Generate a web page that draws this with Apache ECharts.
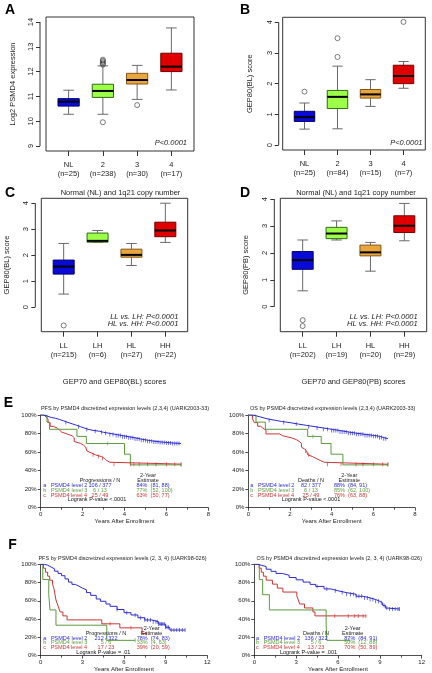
<!DOCTYPE html>
<html><head><meta charset="utf-8">
<script src="https://cdn.jsdelivr.net/npm/echarts@6/dist/echarts.min.js"></script>
<style>html,body{margin:0;padding:0;background:#fff}#c{width:432px;height:673px}</style>
</head><body><div id="c"></div>
<script>
// ================= DATA =================
// Box panels: [min(whisker), Q1, median, Q3, max(whisker)]
const catsAB = ['NL', '2', '3', '4'];
const catsCD = ['LL', 'LH', 'HL', 'HH'];
const nA = ['(n=25)', '(n=238)', '(n=30)', '(n=17)'];
const nB = ['(n=25)', '(n=84)', '(n=15)', '(n=7)'];
const nC = ['(n=215)', '(n=6)', '(n=27)', '(n=22)'];
const nD = ['(n=202)', '(n=19)', '(n=20)', '(n=29)'];
const statsA = [[10.28, 10.61, 10.79, 10.91, 11.25], [10.28, 10.96, 11.22, 11.49, 12.23], [10.88, 11.50, 11.66, 11.93, 12.25], [11.26, 12.00, 12.20, 12.74, 13.76]];
const statsB = [[0.52, 0.77, 0.91, 1.10, 1.37], [0.53, 1.19, 1.57, 1.78, 2.57], [1.26, 1.53, 1.65, 1.81, 2.13], [1.85, 2.00, 2.25, 2.60, 2.72]];
const statsC = [[0.50, 1.27, 1.56, 1.81, 2.45], [2.50, 2.50, 2.55, 2.85, 2.95], [1.60, 1.92, 2.01, 2.23, 2.45], [2.49, 2.71, 2.95, 3.27, 4.00]];
const statsD = [[0.59, 1.39, 1.73, 2.05, 2.48], [2.48, 2.53, 2.72, 2.95, 3.19], [1.32, 1.89, 2.02, 2.29, 2.39], [2.45, 2.76, 3.01, 3.38, 3.84]];
const outA = [[2, 9.96], [2, 12.28], [2, 12.33], [2, 12.38], [2, 12.43], [2, 12.48], [3, 10.65]];
const outB = [[1, 1.74], [2, 2.87], [2, 3.48], [4, 4.01]];
const outC = [[1, -0.71]];
const outD = [[1, -0.50], [1, -0.72]];
const ticksA = [9, 10, 11, 12, 13, 14];
const ticksBCD = [0, 1, 2, 3, 4];

// Kaplan-Meier step curves [years, survival %]
const e1Blue = [[0,100],[0.1,99.5],[0.2,98.9],[0.3,98.1],[0.4,97.3],[0.5,96.5],[0.7,95.2],[0.9,93.6],[1.1,92.0],[1.3,90.5],[1.5,89.0],[1.7,87.4],[1.9,85.8],[2.1,84.4],[2.3,83.4],[2.5,82.5],[2.8,81.3],[3.0,80.2],[3.3,79.0],[3.6,77.8],[3.9,76.6],[4.2,75.4],[4.5,74.0],[4.8,72.8],[5.1,71.8],[5.4,71.0],[5.7,70.4],[6.0,69.8],[6.3,69.3],[6.7,69.3]];
const e1Green = [[0,100],[0.3,92.3],[0.42,84.6],[1.73,76.9],[2.18,69.2],[4.0,57.7],[4.28,46.2],[6.7,46.2]];
const e1Red = [[0,100],[0.15,98.0],[0.25,95.9],[0.35,91.8],[0.45,87.8],[0.6,85.7],[0.8,83.7],[0.9,81.6],[1.0,79.6],[1.25,77.6],[1.5,75.5],[1.6,71.4],[1.65,69.4],[1.9,67.3],[2.05,65.3],[2.15,63.3],[2.2,61.2],[2.25,59.2],[2.4,57.1],[2.6,55.1],[2.9,53.1],[3.05,51.0],[3.15,49.0],[3.3,47.0],[6.7,47.0]];
const e1BlueCens = [1.2,1.8,2.2,2.6,2.9,3.1,3.3,3.45,3.6,3.7,3.8,3.9,4.0,4.1,4.2,4.3,4.4,4.5,4.6,4.7,4.8,4.9,5.0,5.1,5.2,5.3,5.4,5.5,5.6,5.7,5.8,5.9,6.0,6.1,6.2,6.3,6.4,6.5,6.6];
const e1GreenCens = [3.2, 6.7];
const e1RedCens = [2.5,2.75,2.95,3.5,4.3,4.45,4.7,5.1,5.5,6.0,6.4,6.7];

const e2Blue = [[0,100],[0.2,99.0],[0.4,97.8],[0.6,96.5],[0.8,95.4],[1.0,94.3],[1.3,93.0],[1.6,91.8],[2.0,90.2],[2.4,88.8],[2.8,87.4],[3.2,86.0],[3.6,84.6],[4.0,83.2],[4.4,81.7],[4.8,80.3],[5.2,79.1],[5.6,78.0],[6.0,77.0],[6.3,75.6],[6.5,74.5],[6.7,74.5]];
const e2Green = [[0,100],[0.37,92.3],[0.82,84.6],[2.85,76.9],[3.5,69.2],[3.97,57.7],[4.54,46.2],[6.7,46.2]];
const e2Red = [[0,100],[0.2,95.9],[0.29,91.8],[0.45,87.8],[0.6,85.7],[0.7,83.7],[0.85,79.6],[1.5,77.6],[1.65,75.5],[2.05,73.5],[2.3,71.4],[2.45,69.4],[2.55,65.3],[2.6,63.3],[2.7,61.2],[2.8,59.2],[2.85,57.1],[2.93,55.1],[3.09,53.1],[3.25,51.0],[3.45,49.0],[3.65,46.9],[6.7,46.9]];
const e2BlueCens = [1.0,1.7,2.3,2.9,3.3,3.6,3.8,4.0,4.1,4.2,4.3,4.4,4.5,4.6,4.7,4.8,4.9,5.0,5.1,5.2,5.3,5.4,5.5,5.6,5.7,5.8,5.9,6.0,6.1,6.2,6.3,6.4,6.5,6.6];
const e2GreenCens = [3.1, 6.7];
const e2RedCens = [2.75,2.9,3.8,4.45,5.17,5.5,6.0,6.45,6.7];

const f1Blue = [[0,100],[0.25,99.0],[0.5,97.0],[0.75,95.0],[1.0,92.5],[1.25,90.0],[1.5,87.5],[1.75,84.0],[2.0,80.5],[2.25,78.0],[2.5,76.0],[2.75,74.0],[3.0,72.0],[3.3,69.0],[3.6,66.0],[4.0,62.0],[4.3,59.5],[4.7,56.5],[5.0,54.0],[5.5,50.5],[6.0,47.0],[6.5,44.5],[7.0,41.5],[7.5,39.0],[8.0,37.0],[8.5,34.5],[9.0,31.0],[9.3,28.0],[10.4,28.0]];
const f1Green = [[0,100],[0.15,83.3],[0.58,66.7],[0.67,50.0],[1.1,33.3],[4.76,16.7],[6.8,16.7]];
const f1Red = [[0,100],[0.2,95.7],[0.35,91.3],[0.5,87.0],[0.65,82.6],[0.85,78.3],[0.95,73.9],[1.0,69.6],[1.05,65.2],[1.1,60.9],[1.2,56.5],[1.3,52.2],[1.4,47.8],[1.6,43.5],[1.9,39.1],[4.4,34.8],[5.7,30.4],[7.3,24.3],[7.6,24.3]];
const f1BlueCens = [5.5,6.2,6.8,7.2,7.5,7.7,7.9,8.1,8.3,8.4,8.5,8.6,8.7,8.8,8.9,9.0,9.1,9.2,9.4,9.6,9.8,10.0,10.2,10.4];
const f1GreenCens = [6.8];
const f1RedCens = [5.0,6.5,7.6];

const f2Blue = [[0,100],[0.25,99.0],[0.5,97.5],[0.85,94.6],[1.2,92.3],[1.56,90.0],[2.0,88.0],[2.5,85.5],[3.0,83.0],[3.5,80.5],[4.0,78.0],[4.4,75.8],[5.0,73.0],[5.5,71.0],[6.0,69.0],[6.6,67.2],[7.3,65.0],[7.8,63.2],[8.3,61.4],[8.7,59.5],[9.0,57.8],[9.2,55.0],[9.4,52.0],[9.6,51.0],[10.4,51.0]];
const f2Green = [[0,100],[0.36,83.3],[0.6,66.7],[1.08,50.0],[5.15,33.3],[5.2,16.7],[6.85,16.7]];
const f2Red = [[0,100],[0.35,95.7],[0.5,91.3],[0.65,87.0],[0.85,82.6],[1.3,78.3],[1.65,73.9],[2.05,69.6],[3.05,65.2],[3.15,60.9],[3.25,56.5],[3.6,52.2],[4.2,47.8],[4.35,43.5],[8.0,43.5]];
const f2BlueCens = [4.5,5.2,5.8,6.3,6.6,6.9,7.1,7.3,7.5,7.7,7.9,8.1,8.3,8.5,8.7,8.9,9.1,9.3,9.5,9.7,9.9,10.1,10.3,10.4];
const f2GreenCens = [6.85];
const f2RedCens = [5.77,6.73,7.2,7.45,7.8,8.0];

// KM legend texts
const kmNames = ['a   PSMD4 level 2', 'b   PSMD4 level 3', 'c   PSMD4 level 4'];
const e1Counts = ['106 / 377', '6 / 13', '25 / 49'];
const e1Est = ['84%  (81, 88)', '77%  (52, 100)', '63%  (50, 77)'];
const e2Counts = ['82 / 377', '6 / 13', '25 / 49'];
const e2Est = ['88%  (84, 91)', '85%  (62, 100)', '76%  (63, 88)'];
const f1Counts = ['212 / 322', '5 / 6', '17 / 23'];
const f1Est = ['78%  (74, 83)', '33%  (4, 63)', '39%  (20, 59)'];
const f2Counts = ['136 / 322', '5 / 6', '13 / 23'];
const f2Est = ['87%  (84, 91)', '50%  (12, 88)', '70%  (50, 89)'];

// ================= STYLE / LAYOUT =================
const FONT = '"Liberation Sans", Arial, Helvetica, sans-serif';
const boxFill = ['#0a0ad8', '#9cff48', '#e8a63c', '#e00000'];
const boxStroke = ['#00006e', '#2f6a14', '#86561a', '#700000'];
const kmCol = ['#2a2ad2', '#5c9a3c', '#cc3434'];

const boxPanels = [
  {stats: statsA, out: outA, cats: catsAB, ns: nA, ticks: ticksA, yname: 'Log2 PSMD4 expression', xname: '',
   g: {left: 46, top: 17, width: 148, height: 134}, ymin: 8.8, ymax: 14.2, yoff: 6, nameGap: 23},
  {stats: statsB, out: outB, cats: catsAB, ns: nB, ticks: ticksBCD, yname: 'GEP80(BL) score', xname: '',
   g: {left: 282.7, top: 17.3, width: 142.6, height: 132.7}, ymin: -0.16, ymax: 4.16, yoff: 4, nameGap: 25},
  {stats: statsC, out: outC, cats: catsCD, ns: nC, ticks: ticksBCD, yname: 'GEP80(BL) score', xname: 'GEP70 and GEP80(BL) scores',
   g: {left: 41.3, top: 198.3, width: 146.4, height: 133.4}, ymin: -0.95, ymax: 4.19, yoff: 6, nameGap: 24},
  {stats: statsD, out: outD, cats: catsCD, ns: nD, ticks: ticksBCD, yname: 'GEP80(PB) score', xname: 'GEP70 and GEP80(PB) scores',
   g: {left: 280.3, top: 198.3, width: 146.4, height: 133.4}, ymin: -0.93, ymax: 4.03, yoff: 6, nameGap: 24}
];
const kmPanels = [
  {curves: [e1Blue, e1Green, e1Red], cens: [e1BlueCens, e1GreenCens, e1RedCens], xmax: 8, xint: 2,
   g: {left: 40.7, top: 415, width: 167.6, height: 92.7}, nameGap: 7},
  {curves: [e2Blue, e2Green, e2Red], cens: [e2BlueCens, e2GreenCens, e2RedCens], xmax: 8, xint: 2,
   g: {left: 248.3, top: 415, width: 166.7, height: 92.7}, nameGap: 7},
  {curves: [f1Blue, f1Green, f1Red], cens: [f1BlueCens, f1GreenCens, f1RedCens], xmax: 12, xint: 3,
   g: {left: 40.7, top: 564.3, width: 166.6, height: 92.4}, nameGap: 8},
  {curves: [f2Blue, f2Green, f2Red], cens: [f2BlueCens, f2GreenCens, f2RedCens], xmax: 12, xint: 3,
   g: {left: 254.3, top: 564.3, width: 167.4, height: 92.4}, nameGap: 8}
];

// ================= BUILD =================
const grids = [], xAxes = [], yAxes = [], series = [];
const BOX_HALF = 0.31;

function boxRender(params, api) {
  const x = api.value(0);
  const c = [1, 2, 3, 4, 5].map(i => api.coord([x, api.value(i)]));
  const cx = c[0][0];
  const hw = api.size([BOX_HALF, 0])[0];
  const cap = hw * 0.5;
  const i = params.dataIndex;
  const ws = {stroke: '#6a6a6a', lineWidth: 1};
  return {type: 'group', children: [
    {type: 'line', shape: {x1: cx, y1: c[0][1], x2: cx, y2: c[1][1]}, style: ws},
    {type: 'line', shape: {x1: cx, y1: c[3][1], x2: cx, y2: c[4][1]}, style: ws},
    {type: 'line', shape: {x1: cx - cap, y1: c[0][1], x2: cx + cap, y2: c[0][1]}, style: ws},
    {type: 'line', shape: {x1: cx - cap, y1: c[4][1], x2: cx + cap, y2: c[4][1]}, style: ws},
    {type: 'rect', shape: {x: cx - hw, y: c[3][1], width: 2 * hw, height: c[1][1] - c[3][1]},
     style: {fill: boxFill[i], stroke: boxStroke[i], lineWidth: 1}},
    {type: 'line', shape: {x1: cx - hw, y1: c[2][1], x2: cx + hw, y2: c[2][1]}, style: {stroke: '#000', lineWidth: 2}}
  ]};
}

boxPanels.forEach((p, gi) => {
  grids.push(Object.assign({show: true, borderColor: '#333', borderWidth: 1, backgroundColor: 'transparent'}, p.g));
  const cats = p.cats, ns = p.ns;
  xAxes.push({
    gridIndex: gi, type: 'value', min: 0.34, max: 4.66,
    axisLine: {show: false, onZero: false}, splitLine: {show: false},
    axisTick: {show: true, customValues: [1, 2, 3, 4], length: 5, lineStyle: {color: '#333'}},
    axisLabel: {show: true, customValues: [1, 2, 3, 4], formatter: v => cats[Math.round(v) - 1] + '\n' + ns[Math.round(v) - 1],
      fontSize: 7.5, lineHeight: 9.5, margin: 9, color: '#222', fontFamily: FONT},
    name: p.xname, nameLocation: 'middle', nameGap: 46,
    nameTextStyle: {fontSize: 7.5, color: '#222', fontFamily: FONT}
  });
  yAxes.push({
    gridIndex: gi, type: 'value', min: p.ymin, max: p.ymax, offset: p.yoff,
    axisLine: {show: false, onZero: false}, splitLine: {show: false},
    axisTick: {show: true, customValues: p.ticks, length: 4, lineStyle: {color: '#333'}},
    axisLabel: {show: true, customValues: p.ticks, rotate: 90, fontSize: 7.5, margin: 5, color: '#222', fontFamily: FONT,
      formatter: v => String(Math.round(v))},
    name: p.yname, nameLocation: 'middle', nameGap: p.nameGap,
    nameTextStyle: {fontSize: 7.5, color: '#222', fontFamily: FONT}
  });
  series.push({
    type: 'custom', xAxisIndex: gi, yAxisIndex: gi, renderItem: boxRender,
    data: p.stats.map((s, k) => [k + 1].concat(s)), encode: {x: 0, y: [1, 2, 3, 4, 5]}, z: 2
  });
  series.push({
    type: 'scatter', xAxisIndex: gi, yAxisIndex: gi, data: p.out, symbol: 'circle', symbolSize: 5,
    itemStyle: {color: 'rgba(255,255,255,0)', borderColor: '#333', borderWidth: 0.8}, z: 3
  });
});

function stepVal(curve, t) {
  let v = curve[0][1];
  for (const pt of curve) { if (pt[0] <= t) v = pt[1]; else break; }
  return v;
}

kmPanels.forEach((p, k) => {
  const gi = 4 + k;
  grids.push(Object.assign({show: false}, p.g));
  xAxes.push({
    gridIndex: gi, type: 'value', min: 0, max: p.xmax, interval: p.xint,
    axisLine: {show: true, onZero: false, lineStyle: {color: '#222', width: 0.8}},
    axisTick: {show: true, length: 3, lineStyle: {color: '#222', width: 0.8}},
    minorTick: {show: true, splitNumber: 2, length: 2, lineStyle: {color: '#222', width: 0.8}},
    splitLine: {show: false}, minorSplitLine: {show: false},
    axisLabel: {fontSize: 6, margin: 3.5, color: '#222', fontFamily: FONT},
    name: 'Years After Enrollment', nameLocation: 'middle', nameGap: p.nameGap,
    nameTextStyle: {fontSize: 6, color: '#222', fontFamily: FONT}
  });
  yAxes.push({
    gridIndex: gi, type: 'value', min: 0, max: 100, interval: 20,
    axisLine: {show: true, onZero: false, lineStyle: {color: '#222', width: 0.8}},
    axisTick: {show: true, length: 3, lineStyle: {color: '#222', width: 0.8}},
    splitLine: {show: false},
    axisLabel: {fontSize: 6, margin: 4, color: '#222', fontFamily: FONT, formatter: '{value}%'}
  });
  p.curves.forEach((cv, j) => {
    series.push({
      type: 'line', xAxisIndex: gi, yAxisIndex: gi, data: cv, step: 'end', showSymbol: false, symbol: 'none',
      lineStyle: {color: kmCol[j], width: 1}, itemStyle: {color: kmCol[j]}, z: 3 - j * 0.1
    });
    series.push({
      type: 'scatter', xAxisIndex: gi, yAxisIndex: gi, data: p.cens[j].map(t => [t, stepVal(cv, t)]),
      symbol: 'rect', symbolSize: [0.8, 4], itemStyle: {color: kmCol[j]}, z: 3
    });
  });
});

// ================= TEXT =================
const texts = [];
function T(x, y, text, opt) {
  texts.push({type: 'text', x: x, y: y, silent: true, z: 10,
    style: Object.assign({text: text, fill: '#222', fontSize: 7.5, fontFamily: FONT, align: 'left', verticalAlign: 'middle'}, opt || {})});
}
const big = {fontSize: 14, fontWeight: 'bold', align: 'center', fill: '#000'};
T(10, 10.5, 'A', big); T(245, 10.5, 'B', big);
T(10, 193.3, 'C', big); T(245, 193.3, 'D', big);
T(8.3, 403, 'E', big); T(12.5, 545, 'F', big);

const ital = {fontStyle: 'italic', align: 'right'};
T(187, 143, 'P<0.0001', ital);
T(422.5, 143.3, 'P<0.0001', ital);
T(178.3, 316.7, 'LL vs. LH: P<0.0001', ital);
T(178.3, 324.2, 'HL vs. HH: P<0.0001', ital);
T(417.7, 316.7, 'LL vs. LH: P<0.0001', ital);
T(417.7, 324.2, 'HL vs. HH: P<0.0001', ital);
T(120.5, 193.3, 'Normal (NL) and 1q21 copy number', {align: 'center'});
T(356, 193.3, 'Normal (NL) and 1q21 copy number', {align: 'center'});

const kmT = {fontSize: 5.5, align: 'center'};
T(125, 408.3, 'PFS by PSMD4 discretized expression levels (2,3,4) (UARK2003-33)', kmT);
T(332.7, 408.3, 'OS by PSMD4 discretized expression levels (2,3,4) (UARK2003-33)', kmT);
T(122.5, 558.3, 'PFS by PSMD4 discretized expression levels (2, 3, 4) (UARK98-026)', kmT);
T(339.3, 558.3, 'OS by PSMD4 discretized expression levels (2, 3, 4) (UARK98-026)', kmT);

function kmLegend(colHdr, yrHdr, counts, ests, logrank, P) {
  const fs = 5.5;
  T(P.hx, P.hy1, yrHdr, {fontSize: fs, align: 'center'});
  T(P.hx, P.hy2, 'Estimate', {fontSize: fs, align: 'center'});
  T(P.cx, P.hy2, colHdr, {fontSize: fs, align: 'center'});
  for (let j = 0; j < 3; j++) {
    const y = P.ry[j];
    T(P.nx, y, kmNames[j], {fontSize: fs, fill: kmCol[j]});
    T(P.cx, y, counts[j], {fontSize: fs, fill: kmCol[j], align: 'center'});
    T(P.ex, y, ests[j], {fontSize: fs, fill: kmCol[j]});
  }
  T(P.lx, P.ly, logrank, {fontSize: fs, align: 'center', fill: '#111'});
}
kmLegend('Progressions / N', '2-Year', e1Counts, e1Est, 'Logrank P-value <.0001',
  {hx: 148, hy1: 475.7, hy2: 480.3, cx: 100, nx: 43.3, ex: 136.5, ry: [485, 490, 495], lx: 97, ly: 499.7});
kmLegend('Deaths / N', '2-Year', e2Counts, e2Est, 'Logrank P-value <.0001',
  {hx: 349.3, hy1: 475.7, hy2: 480.3, cx: 311, nx: 250.3, ex: 334, ry: [485, 490, 495], lx: 311, ly: 499.7});
kmLegend('Progressions / N', '2-Year', f1Counts, f1Est, 'Logrank P-value = .01',
  {hx: 151.7, hy1: 628.3, hy2: 633.3, cx: 106, nx: 43.3, ex: 136.7, ry: [638.3, 642.8, 647.3], lx: 103.3, ly: 652.7});
kmLegend('Deaths / N', '2-Year', f2Counts, f2Est, 'Logrank P-value = .001',
  {hx: 352.7, hy1: 628.3, hy2: 633.3, cx: 316, nx: 256, ex: 344.3, ry: [638.3, 642.8, 647.3], lx: 308.5, ly: 652.7});

// ================= RENDER =================
const chart = echarts.init(document.getElementById('c'), null, {renderer: 'canvas'});
chart.setOption({
  animation: false, backgroundColor: '#fff',
  textStyle: {fontFamily: FONT},
  grid: grids, xAxis: xAxes, yAxis: yAxes, series: series
});
// y-axis lines of box panels span first to last tick (R style)
const axisLines = boxPanels.map((p, gi) => {
  const a = chart.convertToPixel({gridIndex: gi}, [1, p.ticks[0]]);
  const b = chart.convertToPixel({gridIndex: gi}, [1, p.ticks[p.ticks.length - 1]]);
  const x = p.g.left - p.yoff;
  return {type: 'line', silent: true, z: 5, shape: {x1: x, y1: a[1], x2: x, y2: b[1]}, style: {stroke: '#333', lineWidth: 1}};
});
chart.setOption({graphic: texts.concat(axisLines)});
</script>
</body></html>
